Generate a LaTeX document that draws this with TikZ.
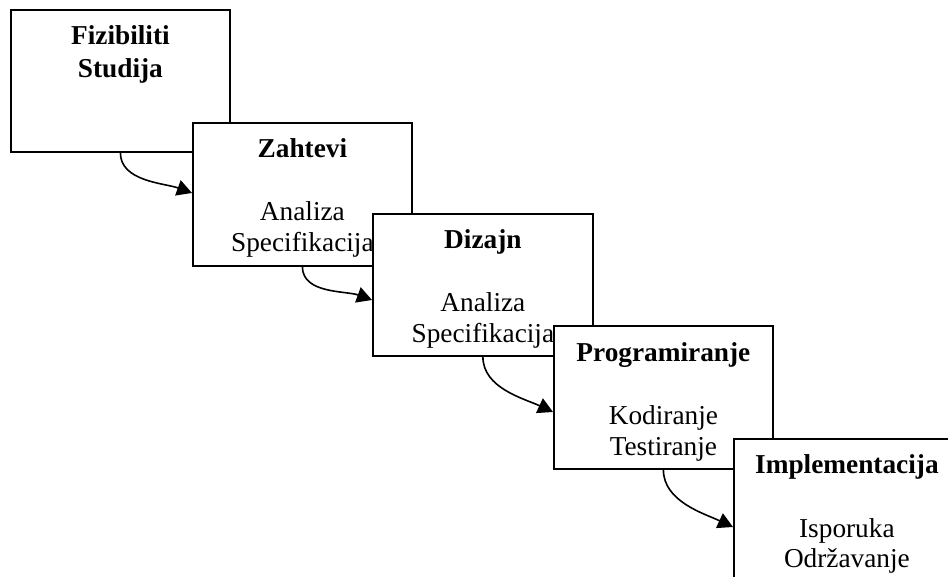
\documentclass[tikz,border=0pt]{standalone}
\usepackage{fontspec}
\setmainfont{Liberation Serif}
\usetikzlibrary{arrows.meta}

\tikzset{
  phase/.style={draw=black, fill=white, line width=1.8pt, inner sep=0pt,
                anchor=north west},
  title/.style={anchor=base, inner sep=0pt, font=\fontsize{27.3}{31}\selectfont\bfseries},
  body/.style={anchor=base, inner sep=0pt, font=\fontsize{27.3}{31}\selectfont},
  flow/.style={line width=1.6pt, -{Triangle[length=15pt,width=16pt]}},
}

\begin{document}
\begin{tikzpicture}[x=1pt,y=1pt]
  \clip (0,0) rectangle (948,-577);
  \fill[white] (0,0) rectangle (948,-577);

  % Feasibility study
  \node[phase, minimum width=219pt, minimum height=142pt] (b1) at (10,-9) {};
  \node[title] (t1a) at ([yshift=-36pt]b1.north) {Fizibiliti};
  \node[title] (t1b) at ([yshift=-69pt]b1.north) {Studija};

  % Requirements
  \node[phase, minimum width=219pt, minimum height=143pt] (b2) at (192,-122) {};
  \node[title] (t2) at ([yshift=-36pt]b2.north) {Zahtevi};
  \node[body] (t2a) at ([yshift=-99pt]b2.north) {Analiza};
  \node[body] (t2b) at ([yshift=-130pt]b2.north) {Specifikacija};

  % Design
  \node[phase, minimum width=220pt, minimum height=142pt] (b3) at (372,-213) {};
  \node[title] (t3) at ([yshift=-36pt]b3.north) {Dizajn};
  \node[body] (t3a) at ([yshift=-99pt]b3.north) {Analiza};
  \node[body] (t3b) at ([yshift=-130pt]b3.north) {Specifikacija};

  % Programming
  \node[phase, minimum width=219pt, minimum height=143pt] (b4) at (553,-325) {};
  \node[title] (t4) at ([yshift=-36pt]b4.north) {Programiranje};
  \node[body] (t4a) at ([yshift=-99pt]b4.north) {Kodiranje};
  \node[body] (t4b) at ([yshift=-130pt]b4.north) {Testiranje};

  % Deployment
  \node[phase, minimum width=226pt, minimum height=145pt] (b5) at (733,-438) {};
  \node[title] (t5) at ([yshift=-35pt]b5.north) {Implementacija};
  \node[body] (t5a) at ([yshift=-99pt]b5.north) {Isporuka};
  \node[body] (t5b) at ([yshift=-129pt]b5.north) {Održavanje};

  % Arrow targets on the left edges
  \coordinate (e2) at (192,-193);
  \coordinate (e3) at (372,-300);
  \coordinate (e4) at (553,-412);
  \coordinate (e5) at (733,-527);

  \draw[flow] (b1.south) to[out=-90, in=160, looseness=0.9] (e2);
  \draw[flow] (b2.south) to[out=-90, in=160, looseness=0.9] (e3);
  \draw[flow] (b3.south) to[out=-90, in=155, looseness=0.9] (e4);
  \draw[flow] (b4.south) to[out=-90, in=155, looseness=0.9] (e5);
\end{tikzpicture}
\end{document}
